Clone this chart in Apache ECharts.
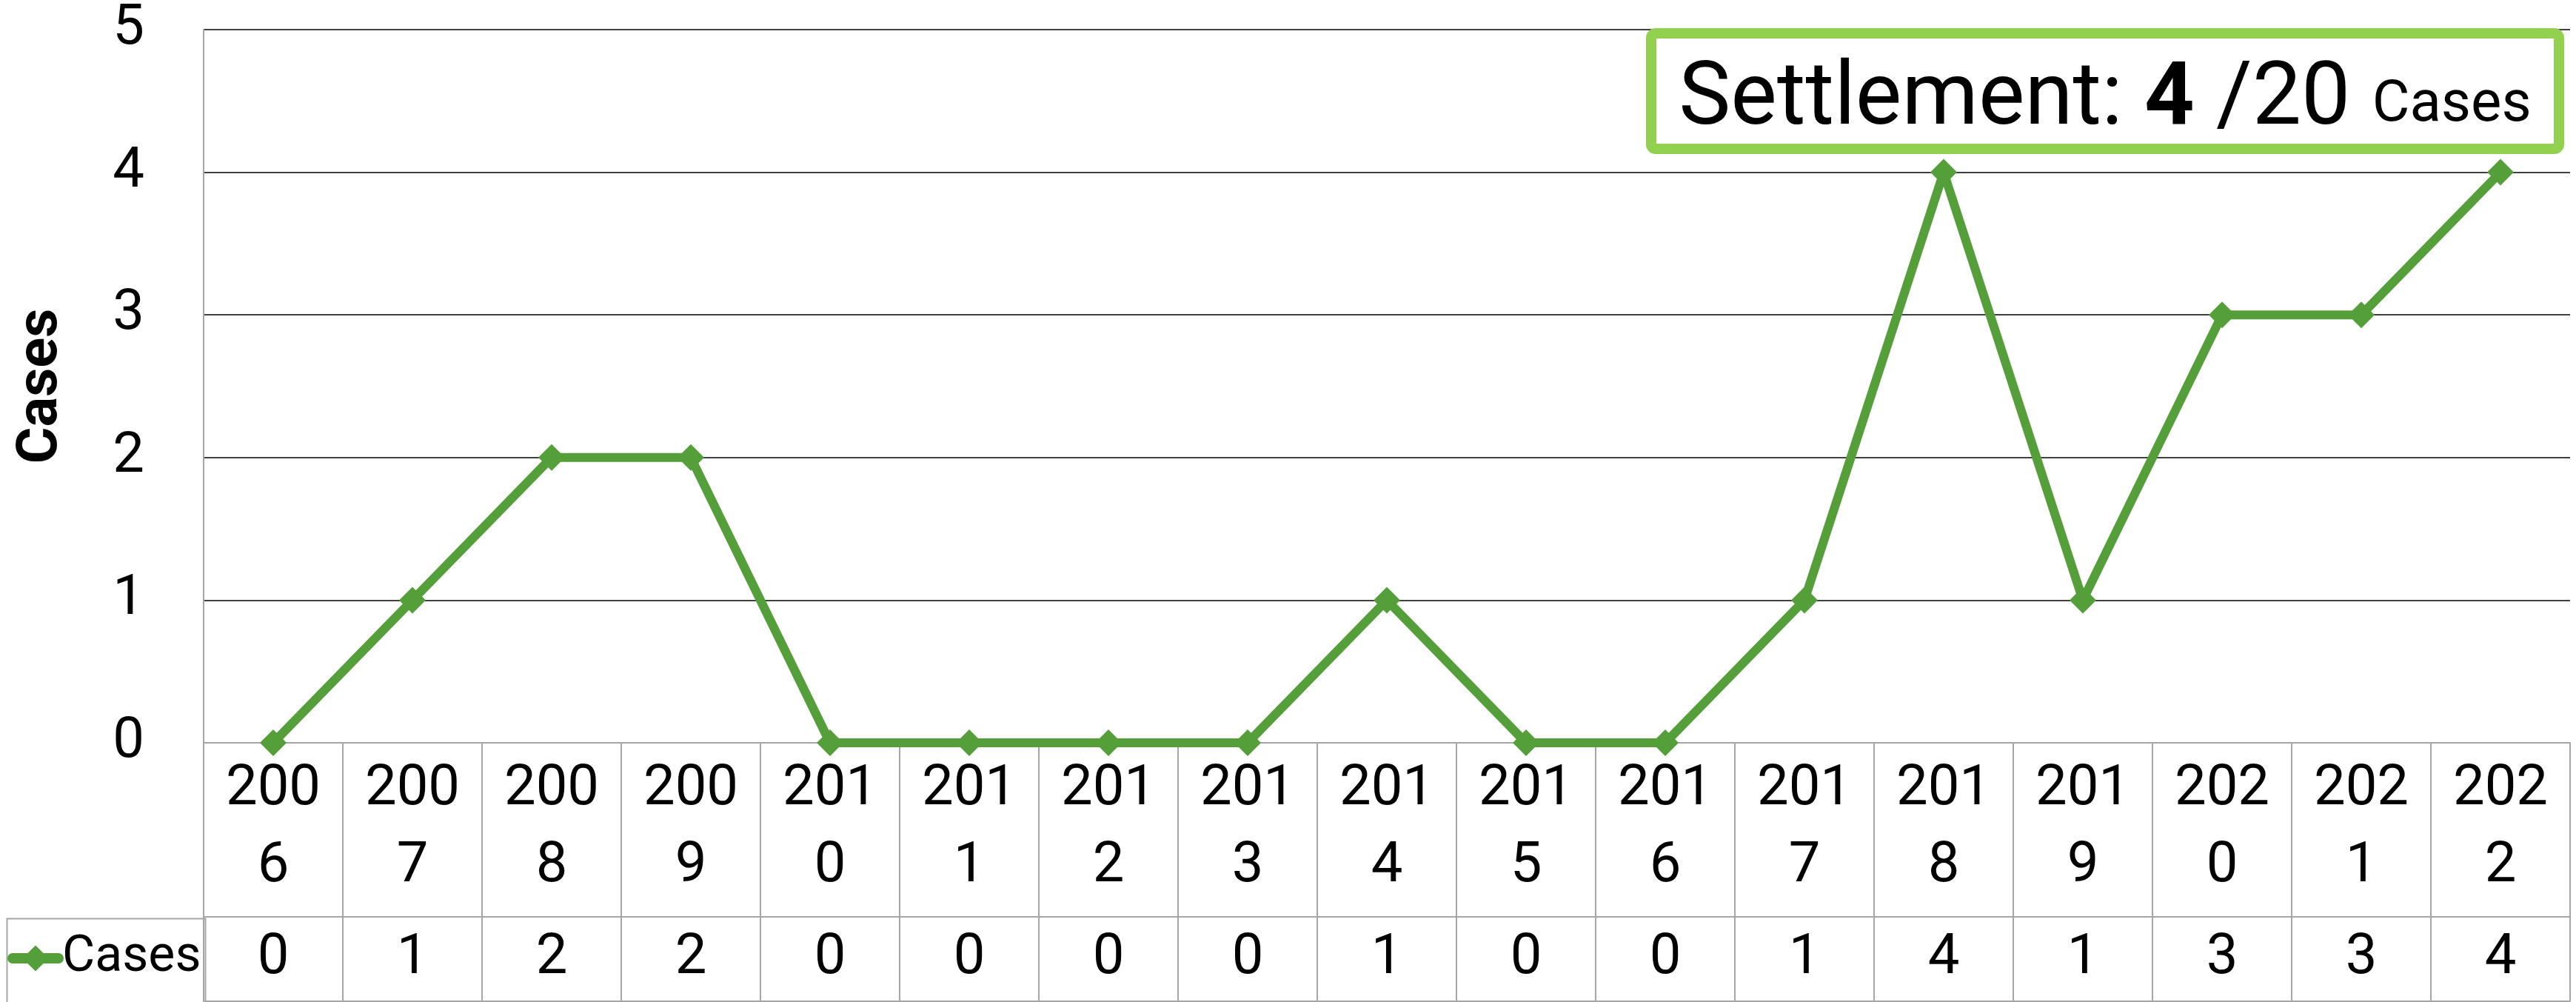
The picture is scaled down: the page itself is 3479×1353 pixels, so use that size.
<!DOCTYPE html>
<html>
<head>
<meta charset="utf-8">
<script src="https://cdn.jsdelivr.net/npm/echarts@6/dist/echarts.min.js"></script>
<style>
html,body{margin:0;padding:0;background:#fff;}
#c{width:3479px;height:1353px;}
</style>
</head>
<body>
<div id="c"></div>
<script>
const years = ['2006','2007','2008','2009','2010','2011','2012','2013','2014','2015','2016','2017','2018','2019','2020','2021','2022'];
const cases = [0,1,2,2,0,0,0,0,1,0,0,1,4,1,3,3,4];
const yTicks = [0,1,2,3,4,5];
const seriesName = 'Cases';
const settledCount = 4;
const totalCount = 20;

const FONT = 'Roboto';
const GREEN = '#559F3B';
const TABLE = '#A6A6A6';

const chart = echarts.init(document.getElementById('c'), null, {renderer:'canvas'});

const option = {
  backgroundColor: '#ffffff',
  animation: false,
  textStyle: {fontFamily: FONT, color: '#000'},
  grid: {left: 275, right: 8, top: 40, bottom: 350, containLabel: false},
  legend: {
    data: [seriesName],
    left: 10, top: 1254, padding: 0,
    itemWidth: 62, itemHeight: 44,
    lineStyle: {width: 14, cap: 'round'},
    textStyle: {fontFamily: FONT, fontSize: 68, color: '#000', lineHeight: 80}
  },
  xAxis: [
    {
      type: 'category', data: years, boundaryGap: true, position: 'bottom',
      axisLine: {show: true, lineStyle: {color: TABLE, width: 2}},
      axisTick: {show: true, interval: 0, length: 349, lineStyle: {color: TABLE, width: 2}},
      axisLabel: {
        interval: 0, margin: 12, fontFamily: FONT, fontSize: 76, lineHeight: 104, color: '#000',
        formatter: v => v.slice(0,3) + '\n' + v.slice(3)
      },
      splitLine: {show: false}
    },
    {
      type: 'category', data: years, boundaryGap: true, position: 'bottom', offset: 235,
      axisLine: {show: true, lineStyle: {color: TABLE, width: 2}},
      axisTick: {show: false},
      axisLabel: {
        interval: 0, margin: 19, fontFamily: FONT, fontSize: 76, lineHeight: 76, color: '#000',
        formatter: (v, i) => String(cases[i])
      },
      splitLine: {show: false}
    },
    {
      type: 'category', data: years, boundaryGap: true, position: 'bottom', offset: 349,
      axisLine: {show: true, lineStyle: {color: TABLE, width: 2}},
      axisTick: {show: false}, axisLabel: {show: false}, splitLine: {show: false}
    }
  ],
  yAxis: {
    type: 'value', min: yTicks[0], max: yTicks[yTicks.length-1], interval: 1,
    name: 'Cases', nameLocation: 'middle', nameGap: 180, nameRotate: 90,
    nameTextStyle: {fontFamily: FONT, fontSize: 76, fontWeight: 'bold', color: '#000'},
    axisLine: {show: true, lineStyle: {color: TABLE, width: 2}},
    axisTick: {show: false},
    axisLabel: {margin: 80, fontFamily: FONT, fontSize: 76, color: '#000'},
    splitLine: {show: true, showMinLine: false, lineStyle: {color: '#404040', width: 2}}
  },
  series: [{
    name: seriesName, type: 'line', data: cases, xAxisIndex: 0,
    symbol: 'diamond', symbolSize: 36,
    lineStyle: {color: GREEN, width: 12},
    itemStyle: {color: GREEN},
    z: 5
  }],
  graphic: [
    {
      type: 'rect', left: 7, top: 1238, z: 1, silent: true,
      shape: {x: 0, y: 0, width: 268, height: 114},
      style: {fill: 'none', stroke: TABLE, lineWidth: 2}
    },
    {
      type: 'rect', z: 10, silent: true,
      shape: {x: 2230, y: 45, width: 1226, height: 156, r: 6},
      style: {fill: '#ffffff', stroke: '#92D050', lineWidth: 14}
    },
    {
      type: 'text', z: 11, silent: true,
      x: 2843, y: 137,
      style: {
        text: '{a|Settlement: }{b|' + settledCount + '}{a| /' + totalCount + ' }{c|Cases}',
        align: 'center', verticalAlign: 'middle',
        fontFamily: FONT, fill: '#000',
        rich: {
          a: {fontFamily: FONT, fontSize: 118, verticalAlign: 'bottom', fill: '#000'},
          b: {fontFamily: FONT, fontSize: 118, fontWeight: 'bold', verticalAlign: 'bottom', fill: '#000'},
          c: {fontFamily: FONT, fontSize: 78, verticalAlign: 'bottom', padding: [0,0,14,0], fill: '#000'}
        }
      }
    }
  ]
};
chart.setOption(option);
</script>
</body>
</html>
